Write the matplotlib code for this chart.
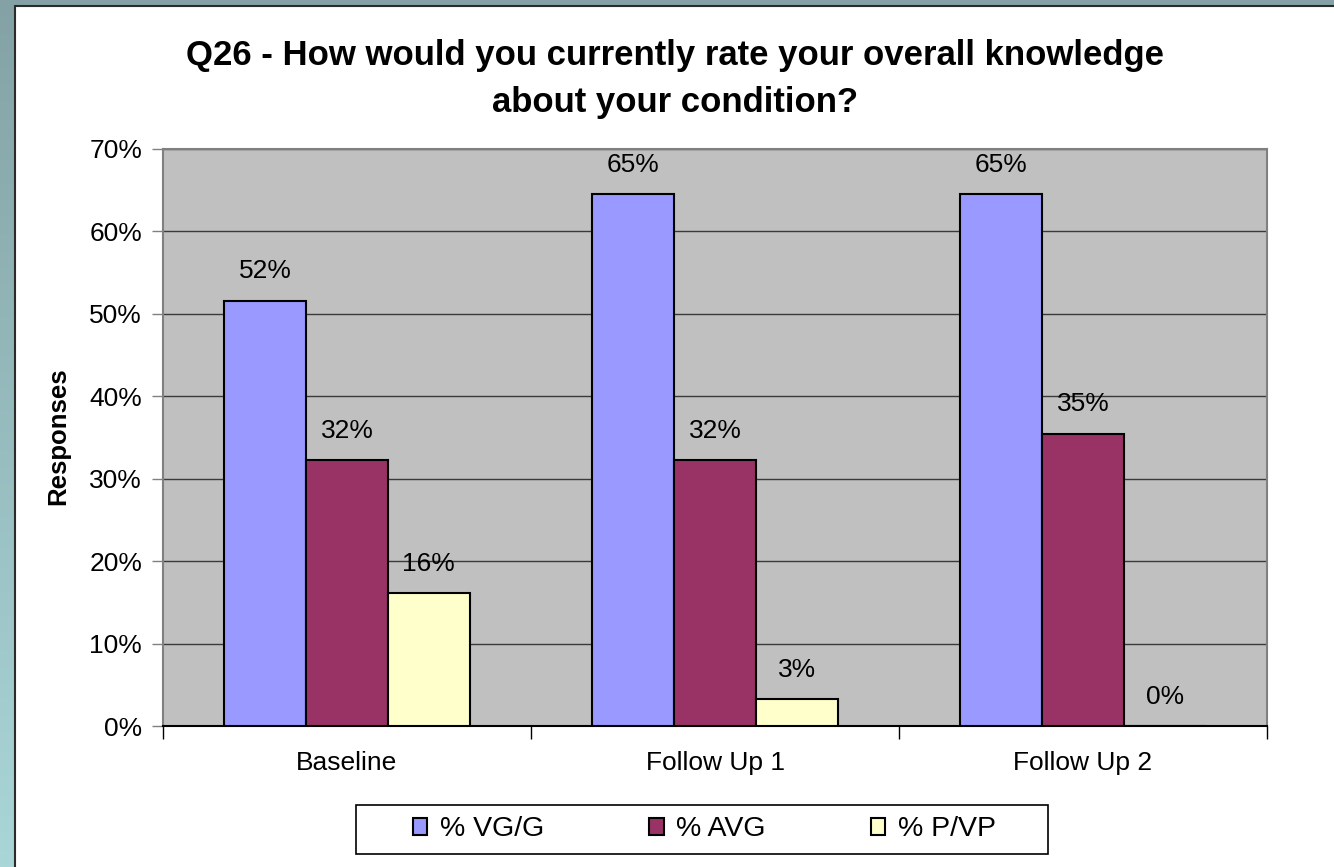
import numpy as np
import matplotlib
matplotlib.use('Agg')
import matplotlib.pyplot as plt
from matplotlib.patches import Rectangle
from matplotlib.colors import LinearSegmentedColormap
from matplotlib.ticker import PercentFormatter

plt.rcParams['font.family'] = ['Liberation Sans', 'DejaVu Sans']

# data (percent of responses)
categories = ['Baseline', 'Follow Up 1', 'Follow Up 2']
series_names = ['% VG/G', '% AVG', '% P/VP']
vg_g = [51.61, 64.52, 64.52]
avg = [32.26, 32.26, 35.48]
p_vp = [16.13, 3.23, 0.0]
title_lines = ['Q26 - How would you currently rate your overall knowledge',
               'about your condition?']

colors = ['#9999ff', '#993366', '#ffffcc']

W, H = 1334, 867
fig = plt.figure(figsize=(W / 100, H / 100), dpi=100)

# teal slide backdrop + white panel
bg = fig.add_axes([0, 0, 1, 1])
bg.axis('off')
grad = np.linspace(0, 1, 256).reshape(-1, 1)
cmap = LinearSegmentedColormap.from_list('bg', ['#84a2a5', '#aad6d8'])
bg.imshow(grad, aspect='auto', cmap=cmap, extent=[0, 1, 0, 1])
bg.set_xlim(0, 1)
bg.set_ylim(0, 1)
bg.add_patch(Rectangle((15 / W, -0.01), 1.1, (H - 5.5) / H + 0.01,
                       fc='white', ec='#2b2b2b', lw=1.5))
# legend frame
bg.add_patch(Rectangle((356 / W, 1 - 854 / H), (1048 - 356) / W, 49 / H,
                       fc='white', ec='black', lw=1.2))

ax = fig.add_axes([163 / W, 1 - 726 / H, (1267 - 163) / W, (726 - 149) / H])
ax.set_facecolor('#c0c0c0')

x = np.arange(len(categories))
w = 0.2222
handles = []
for i, (vals, name) in enumerate(zip([vg_g, avg, p_vp], series_names)):
    b = ax.bar(x + (i - 1) * w, vals, w, color=colors[i], edgecolor='black',
               linewidth=1.5, label=name, zorder=3)
    handles.append(b)
    for xi, v in zip(x + (i - 1) * w, vals):
        ax.annotate('%.0f%%' % v, (xi, v), xytext=(0, 21), textcoords='offset points',
                    ha='center', va='center', fontsize=19, zorder=4)

ax.set_xlim(-0.5, 2.5)
ax.set_ylim(0, 70)
ax.set_yticks(range(0, 71, 10))
ax.yaxis.set_major_formatter(PercentFormatter(decimals=0))
ax.yaxis.grid(True, color='#3a3a3a', lw=1)
ax.set_axisbelow(True)
ax.tick_params(axis='y', length=8, width=1, color='#808080', pad=7, labelsize=19)

ax.set_xticks(x)
ax.set_xticklabels(categories)
ax.set_xticks([-0.5, 0.5, 1.5, 2.5], minor=True)
ax.tick_params(axis='x', which='major', length=0, pad=18, labelsize=19)
ax.tick_params(axis='x', which='minor', length=9, width=1, color='black')

for s in ['left', 'right', 'top']:
    ax.spines[s].set_color('#808080')
    ax.spines[s].set_linewidth(1.5)
ax.spines['bottom'].set_color('black')
ax.spines['bottom'].set_linewidth(1.5)

fig.text(675 / W, 1 - 65 / H, title_lines[0], ha='center', va='baseline',
         fontsize=25, fontweight='bold')
fig.text(675 / W, 1 - 112 / H, title_lines[1], ha='center', va='baseline',
         fontsize=25, fontweight='bold')
fig.text(58 / W, 1 - 436 / H, 'Responses', rotation=90, ha='center', va='center',
         fontsize=18.5, fontweight='bold')

fig.legend(handles, series_names, loc='center', bbox_to_anchor=(704.5 / W, 1 - 829.5 / H),
           ncol=3, frameon=False, fontsize=20.5, handlelength=0.5, handleheight=0.5,
           handletextpad=0.45, columnspacing=3.7, borderpad=0)

fig.savefig('out.png', dpi=100)
